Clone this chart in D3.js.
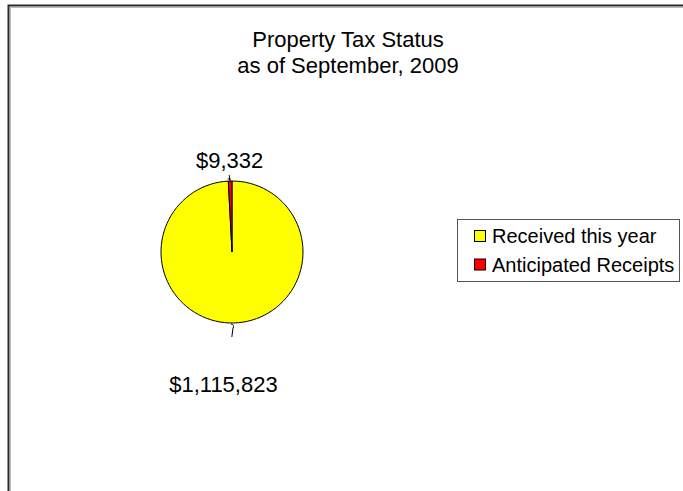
<!DOCTYPE html>
<html>
<head>
<meta charset="utf-8">
<script src="https://cdn.jsdelivr.net/npm/d3@7/dist/d3.min.js"></script>
<style>
  html, body { margin: 0; padding: 0; background: #fff; }
  svg { display: block; font-family: "Liberation Sans", Arial, sans-serif; }
</style>
</head>
<body>
<svg id="chart" width="683" height="491"></svg>
<script>
// ---- data ----
const titleLines = ["Property Tax Status", "as of September, 2009"];
const categories = ["Received this year", "Anticipated Receipts"];
const values = [1115823, 9332];
const colors = ["#FFFF00", "#FF0000"];
const valueLabels = ["$1,115,823", "$9,332"];

// ---- layout ----
const W = 683, H = 491;
const cx = 232, cy = 252, R = 71;
const svg = d3.select("#chart");

svg.append("rect").attr("width", W).attr("height", H).attr("fill", "#fff");

// frame
svg.append("rect")
  .attr("x", 8.5).attr("y", 5.5).attr("width", 720).attr("height", 520)
  .attr("fill", "none").attr("stroke", "#2a2a2a").attr("stroke-width", 2);
svg.append("rect")
  .attr("x", 10.5).attr("y", 7.5).attr("width", 720).attr("height", 520)
  .attr("fill", "none").attr("stroke", "#bbb").attr("stroke-width", 1);

// title
const title = svg.append("text")
  .attr("text-anchor", "middle")
  .attr("font-size", 22).attr("fill", "#000");
titleLines.forEach((t, i) => {
  title.append("tspan").attr("x", 348).attr("y", 47 + i * 26).text(t);
});

// pie
const data = categories.map((c, i) => ({ cat: c, value: values[i], color: colors[i], label: valueLabels[i] }));
const pie = d3.pie().value(d => d.value).sort(null);
const arcs = pie(data);
const arc = d3.arc().innerRadius(0).outerRadius(R);

const g = svg.append("g").attr("transform", `translate(${cx},${cy})`);
g.selectAll("path.slice")
  .data(arcs)
  .join("path")
  .attr("class", "slice")
  .attr("d", arc)
  .attr("fill", d => d.data.color)
  .attr("stroke", "#000")
  .attr("stroke-width", 1)
  .attr("stroke-linejoin", "round");

// labels with leader lines
const labelDist = [132, 92];   // distance of label centre from pie centre, per slice
const labelShift = [-12, 0];   // horizontal tweak
arcs.forEach((a, i) => {
  const mid = (a.startAngle + a.endAngle) / 2;
  const sx = Math.sin(mid), sy = -Math.cos(mid);
  const lx = sx * labelDist[i] + labelShift[i];
  const ly = sy * labelDist[i];
  g.append("text")
    .attr("x", lx).attr("y", ly)
    .attr("dy", "0.35em")
    .attr("text-anchor", "middle")
    .attr("font-size", 22)
    .text(a.data.label);
  // leader line
  const p0 = [sx * R, sy * R];
  let path;
  if (i === 0) {
    path = `M${p0[0] - 3},${p0[1] + 1} Q${p0[0] + 1},${p0[1] + 1} ${p0[0] - 1},${p0[1] + 6} L${p0[0] - 2},${p0[1] + 14}`;
  } else {
    path = `M${p0[0]},${p0[1]} L${p0[0] - 1},${p0[1] - 6} M${p0[0] - 2.5},${p0[1] - 2} L${p0[0] + 0.5},${p0[1] - 2}`;
  }
  g.append("path").attr("d", path).attr("fill", "none").attr("stroke", "#000").attr("stroke-width", 1);
});

// legend
const lg = svg.append("g").attr("transform", "translate(457,219)");
lg.append("rect").attr("x", 0.5).attr("y", 0.5).attr("width", 222).attr("height", 62)
  .attr("fill", "#fff").attr("stroke", "#555").attr("stroke-width", 1);
data.forEach((d, i) => {
  const y = 17 + i * 28.5;
  lg.append("rect").attr("x", 17.5).attr("y", y - 5.5).attr("width", 11).attr("height", 11)
    .attr("fill", d.color).attr("stroke", "#000").attr("stroke-width", 1);
  lg.append("text").attr("x", 35).attr("y", y).attr("dy", "0.35em")
    .attr("font-size", 20).text(d.cat);
});
</script>
</body>
</html>
